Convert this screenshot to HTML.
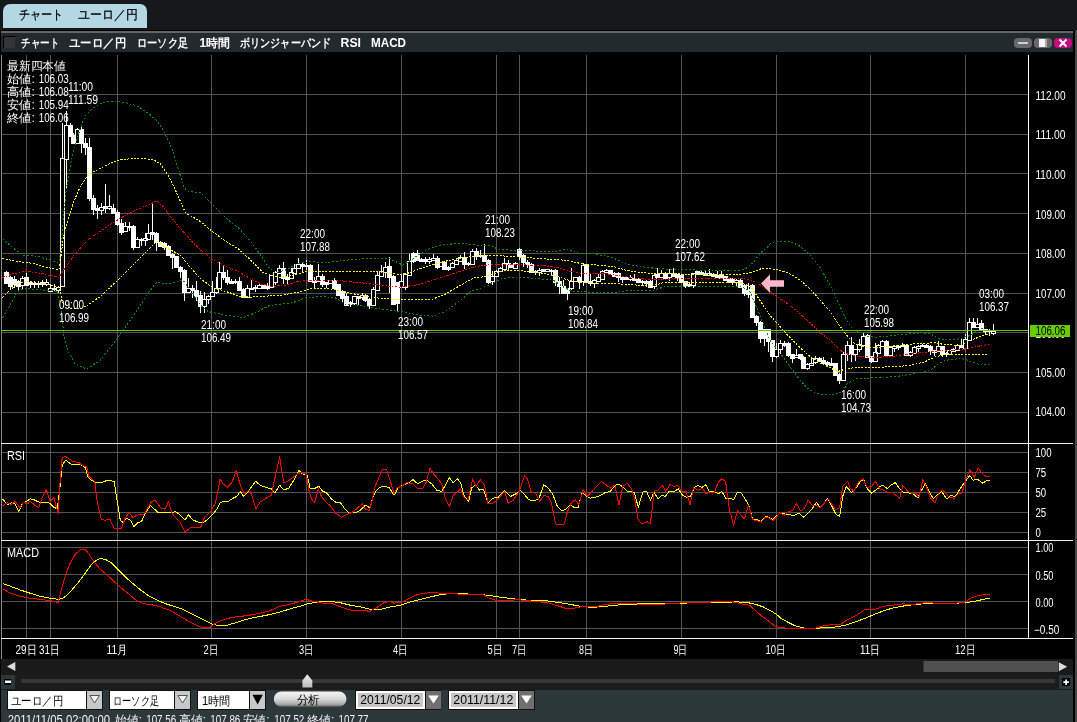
<!DOCTYPE html>
<html lang="ja"><head><meta charset="utf-8"><title>チャート ユーロ／円</title>
<style>
html,body{margin:0;padding:0}
body{width:1077px;height:722px;overflow:hidden;background:#15191b;position:relative;font-family:"Liberation Sans", sans-serif;font-size:12px;color:#fff}
.abs{position:absolute}
.tab{left:3px;top:4px;width:144px;height:24px;background:#b3d8e3;border-radius:7px 7px 0 0;color:#000;font-size:12px;line-height:24px;white-space:pre}
.hl{left:1px;top:31px;width:1072px;height:2px;background:#666}
.tbar{left:1px;top:33px;width:1072px;height:19px;background:#232a2d}
.chk{left:3px;top:36px;width:11px;height:11px;background:#343434;border-left:1px solid #000;border-top:1px solid #000}
.wb{top:38px;width:18px;height:10px;border-radius:4px;background:#68696d}
.rstrip{left:1073px;top:30px;width:2px;height:692px;background:#000;border-right:2px solid #484848;border-left:0}
.topline{left:0;top:30px;width:1075px;height:1px;background:#000}
.lstrip{left:0;top:30px;width:1px;height:692px;background:#000}
</style></head><body><div id="root" style="position:absolute;left:0;top:0;width:1077px;height:722px;overflow:hidden;will-change:transform">
<div class="abs tab"></div>
<div class="abs hl"></div>
<div class="abs tbar"></div>
<div class="abs chk"></div>
<svg class="abs" style="left:0;top:0" width="1077" height="52" font-family='"Liberation Sans", sans-serif' font-size="12">
<text x="18.5" y="18.7" fill="#000" font-size="13" stroke="#000" stroke-width=".25" textLength="44.5" lengthAdjust="spacingAndGlyphs">チャート</text>
<text x="78" y="18.7" fill="#000" font-size="13" stroke="#000" stroke-width=".25" textLength="59.5" lengthAdjust="spacingAndGlyphs">ユーロ／円</text>
<g fill="#fff" font-weight="bold">
<text x="21" y="46.6" textLength="38" lengthAdjust="spacingAndGlyphs">チャート</text>
<text x="69" y="46.6" textLength="57" lengthAdjust="spacingAndGlyphs">ユーロ／円</text>
<text x="137" y="46.6" textLength="51" lengthAdjust="spacingAndGlyphs">ローソク足</text>
<text x="199.5" y="46.6" textLength="30.5" lengthAdjust="spacingAndGlyphs">1時間</text>
<text x="240" y="46.6" textLength="91" lengthAdjust="spacingAndGlyphs">ボリンジャーバンド</text>
<text x="340.5" y="46.6" textLength="20.5" lengthAdjust="spacingAndGlyphs">RSI</text>
<text x="371" y="46.6" textLength="35" lengthAdjust="spacingAndGlyphs">MACD</text>
</g></svg>
<div class="abs wb" style="left:1014px"><svg width="18" height="10" style="display:block"><rect x="4" y="4" width="10" height="2" fill="#d0d0d0"/></svg></div>
<div class="abs wb" style="left:1034px"><svg width="18" height="10" style="display:block"><rect x="5" y="1" width="8" height="8" fill="#f4f4f4"/><rect x="11" y="1" width="2" height="8" fill="#aaa"/></svg></div>
<div class="abs wb" style="left:1054px;background:#c40a80"><svg width="18" height="10" style="display:block"><path d="M5.5 1.5l7 7M12.5 1.5l-7 7" stroke="#fff" stroke-width="2" fill="none"/></svg></div>
<svg width="1077" height="607" viewBox="0 52 1077 607" style="position:absolute;left:0;top:52px;display:block" font-family='"Liberation Sans", sans-serif'>
<rect x="0" y="52" width="1075" height="607" fill="#000"/>
<path d="M26.5 55V638M50.5 55V638M117.5 55V638M211.5 55V638M306.5 55V638M401.5 55V638M496.5 55V638M519.5 55V638M586.5 55V638M681.5 55V638M776.5 55V638M870.5 55V638M965.5 55V638M2 94.5H1028M2 134.5H1028M2 173.5H1028M2 213.5H1028M2 253.5H1028M2 293.5H1028M2 332.5H1028M2 372.5H1028M2 412.5H1028M2 452.5H1028M2 472.5H1028M2 492.5H1028M2 512.5H1028M2 532.5H1028M2 547.5H1028M2 574.5H1028M2 601.5H1028M2 628.5H1028" stroke="#545454" stroke-width="1" fill="none" shape-rendering="crispEdges"/>
<path d="M1.5 55V659" stroke="#8a8a8a" stroke-width="1" shape-rendering="crispEdges"/>
<path d="M6.5 271V284M10.5 276V290M14.5 276V288M18.5 280V290M22.5 276V290M26.5 273V286M30.5 281V288M34.5 281V288M38.5 281V288M42.5 280V287M46.5 279V286M50.5 284V291M54.5 284V291M58.5 286V293M62.5 123V287M66.5 111V189M70.5 123V136M73.5 133V143M77.5 128V143M81.5 126V153M85.5 138V155M89.5 138V201M93.5 195V215M97.5 205V219M101.5 203V215M105.5 184V213M109.5 195V210M113.5 204V214M117.5 210V226M121.5 219V235M125.5 222V232M129.5 222V231M133.5 225V250M137.5 237V247M141.5 238V246M145.5 233V246M148.5 224V240M152.5 203V240M156.5 232V251M160.5 241V247M164.5 242V250M168.5 245V256M172.5 253V269M176.5 256V268M180.5 266V278M184.5 269V301M188.5 278V293M192.5 285V298M196.5 281V301M200.5 291V313M204.5 292V313M208.5 295V304M212.5 281V297M216.5 277V294M219.5 262V289M223.5 265V280M227.5 270V285M231.5 279V284M235.5 279V284M239.5 277V290M243.5 288V297M247.5 285V297M251.5 280V290M255.5 285V292M259.5 283V289M263.5 285V289M267.5 283V290M271.5 275V287M275.5 271V285M279.5 265V273M283.5 262V284M287.5 274V284M291.5 268V279M294.5 264V273M298.5 258V269M302.5 262V273M306.5 260V270M310.5 264V282M314.5 277V289M318.5 264V282M322.5 274V287M326.5 282V288M330.5 280V284M334.5 278V289M338.5 284V296M342.5 290V303M346.5 293V305M350.5 301V307M354.5 296V305M358.5 296V305M362.5 293V300M365.5 294V302M369.5 298V309M373.5 287V305M377.5 271V291M381.5 265V277M385.5 262V278M389.5 257V293M393.5 275V305M397.5 282V311M401.5 275V288M405.5 273V290M409.5 254V275M413.5 252V263M417.5 250V260M421.5 258V262M425.5 257V264M429.5 257V264M433.5 254V261M437.5 256V269M440.5 262V267M444.5 261V269M448.5 266V271M452.5 262V268M456.5 260V264M460.5 255V262M464.5 252V269M468.5 262V266M472.5 249V265M476.5 248V260M480.5 250V258M484.5 244V262M488.5 259V284M492.5 271V285M496.5 270V277M500.5 267V272M504.5 258V269M508.5 260V270M511.5 264V268M515.5 262V269M519.5 248V260M523.5 254V267M527.5 260V268M531.5 263V273M535.5 270V275M539.5 268V276M543.5 269V272M547.5 269V272M551.5 269V276M555.5 269V286M559.5 277V294M563.5 280V293M567.5 288V300M571.5 268V290M575.5 277V281M579.5 276V289M583.5 263V286M586.5 264V283M590.5 274V286M594.5 279V288M598.5 274V281M602.5 270V279M606.5 269V272M610.5 270V275M614.5 272V277M618.5 272V282M622.5 276V283M626.5 277V280M630.5 275V281M634.5 274V281M638.5 278V283M642.5 280V285M646.5 280V286M650.5 280V288M654.5 273V289M657.5 268V278M661.5 270V277M665.5 272V280M669.5 269V281M673.5 268V277M677.5 274V281M681.5 274V283M685.5 281V288M689.5 283V287M693.5 273V288M697.5 271V275M701.5 271V275M705.5 270V275M709.5 269V276M713.5 273V277M717.5 271V278M721.5 271V278M725.5 276V280M729.5 278V282M732.5 278V285M736.5 279V286M740.5 279V287M744.5 284V296M748.5 283V298M752.5 284V318M756.5 315V326M760.5 321V343M764.5 329V346M768.5 329V352M772.5 340V362M776.5 343V358M780.5 340V354M784.5 341V347M788.5 342V357M792.5 354V363M796.5 349V358M800.5 354V360M803.5 356V369M807.5 363V370M811.5 358V366M815.5 356V364M819.5 357V362M823.5 357V365M827.5 361V367M831.5 358V366M835.5 363V376M839.5 373V384M843.5 352V381M847.5 341V361M851.5 337V362M855.5 349V361M859.5 339V352M863.5 333V345M867.5 334V358M871.5 356V363M875.5 343V361M878.5 344V354M882.5 340V347M886.5 340V355M890.5 346V355M894.5 345V352M898.5 345V350M902.5 343V347M906.5 344V356M910.5 351V357M914.5 346V353M918.5 345V352M922.5 344V347M926.5 344V348M930.5 345V355M934.5 350V356M938.5 341V352M942.5 346V357M946.5 352V357M949.5 350V355M953.5 348V352M957.5 344V351M961.5 338V348M965.5 334V348M969.5 318V341M973.5 318V327M977.5 318V327M981.5 320V330M985.5 329V334M989.5 329V336M993.5 324V335" stroke="#fff" stroke-width="1" fill="none" shape-rendering="crispEdges"/>
<path d="M20.5 278.5h4V285.5h-4zM36.5 283.5h4V284.5h-4zM44.5 282.5h4V284.5h-4zM48.5 288.5h4V291.5h-4zM56.5 287.5h4V290.5h-4zM60.5 158.5h4V286.5h-4zM64.5 125.5h4V159.5h-4zM75.5 129.5h4V143.5h-4zM99.5 207.5h4V210.5h-4zM107.5 206.5h4V208.5h-4zM123.5 226.5h4V231.5h-4zM135.5 239.5h4V247.5h-4zM143.5 238.5h4V240.5h-4zM146.5 233.5h4V239.5h-4zM186.5 288.5h4V292.5h-4zM202.5 299.5h4V306.5h-4zM206.5 296.5h4V299.5h-4zM210.5 292.5h4V296.5h-4zM214.5 288.5h4V292.5h-4zM217.5 272.5h4V288.5h-4zM245.5 288.5h4V297.5h-4zM249.5 288.5h4V289.5h-4zM257.5 285.5h4V288.5h-4zM269.5 275.5h4V287.5h-4zM273.5 272.5h4V282.5h-4zM277.5 268.5h4V273.5h-4zM289.5 272.5h4V278.5h-4zM292.5 268.5h4V273.5h-4zM296.5 264.5h4V268.5h-4zM316.5 276.5h4V281.5h-4zM328.5 280.5h4V283.5h-4zM352.5 296.5h4V303.5h-4zM360.5 295.5h4V297.5h-4zM371.5 289.5h4V305.5h-4zM375.5 275.5h4V290.5h-4zM379.5 271.5h4V276.5h-4zM383.5 267.5h4V272.5h-4zM399.5 281.5h4V287.5h-4zM403.5 274.5h4V287.5h-4zM407.5 261.5h4V275.5h-4zM427.5 259.5h4V261.5h-4zM431.5 258.5h4V260.5h-4zM438.5 262.5h4V266.5h-4zM450.5 263.5h4V267.5h-4zM454.5 260.5h4V264.5h-4zM458.5 257.5h4V261.5h-4zM470.5 251.5h4V264.5h-4zM490.5 276.5h4V281.5h-4zM494.5 271.5h4V276.5h-4zM498.5 268.5h4V271.5h-4zM502.5 263.5h4V269.5h-4zM513.5 263.5h4V268.5h-4zM537.5 270.5h4V272.5h-4zM545.5 269.5h4V271.5h-4zM569.5 281.5h4V288.5h-4zM573.5 277.5h4V281.5h-4zM581.5 265.5h4V281.5h-4zM592.5 280.5h4V283.5h-4zM596.5 277.5h4V281.5h-4zM600.5 271.5h4V279.5h-4zM604.5 270.5h4V272.5h-4zM628.5 277.5h4V279.5h-4zM652.5 275.5h4V286.5h-4zM659.5 273.5h4V277.5h-4zM667.5 273.5h4V277.5h-4zM691.5 273.5h4V285.5h-4zM707.5 273.5h4V275.5h-4zM734.5 280.5h4V282.5h-4zM774.5 349.5h4V356.5h-4zM778.5 343.5h4V349.5h-4zM794.5 355.5h4V357.5h-4zM805.5 364.5h4V368.5h-4zM809.5 363.5h4V365.5h-4zM813.5 358.5h4V362.5h-4zM841.5 354.5h4V380.5h-4zM845.5 345.5h4V354.5h-4zM853.5 349.5h4V354.5h-4zM857.5 344.5h4V349.5h-4zM861.5 336.5h4V345.5h-4zM873.5 352.5h4V361.5h-4zM876.5 345.5h4V353.5h-4zM880.5 341.5h4V346.5h-4zM888.5 347.5h4V355.5h-4zM892.5 346.5h4V348.5h-4zM900.5 345.5h4V346.5h-4zM908.5 352.5h4V355.5h-4zM912.5 347.5h4V353.5h-4zM916.5 346.5h4V348.5h-4zM936.5 346.5h4V351.5h-4zM947.5 350.5h4V354.5h-4zM951.5 349.5h4V351.5h-4zM955.5 345.5h4V350.5h-4zM963.5 339.5h4V348.5h-4zM967.5 322.5h4V340.5h-4zM975.5 324.5h4V327.5h-4zM987.5 330.5h4V331.5h-4zM991.5 331.5h4V333.5h-4z" stroke="#fff" stroke-width="1" fill="#000" shape-rendering="crispEdges"/>
<path d="M4.5 272.5h4V283.5h-4zM8.5 277.5h4V286.5h-4zM12.5 279.5h4V284.5h-4zM16.5 281.5h4V286.5h-4zM24.5 277.5h4V285.5h-4zM28.5 282.5h4V284.5h-4zM32.5 283.5h4V284.5h-4zM40.5 282.5h4V284.5h-4zM52.5 288.5h4V289.5h-4zM68.5 125.5h4V136.5h-4zM71.5 135.5h4V143.5h-4zM79.5 129.5h4V143.5h-4zM83.5 143.5h4V147.5h-4zM87.5 147.5h4V198.5h-4zM91.5 198.5h4V209.5h-4zM95.5 208.5h4V210.5h-4zM103.5 206.5h4V208.5h-4zM111.5 208.5h4V213.5h-4zM115.5 212.5h4V224.5h-4zM119.5 223.5h4V232.5h-4zM127.5 226.5h4V227.5h-4zM131.5 226.5h4V247.5h-4zM139.5 239.5h4V240.5h-4zM150.5 232.5h4V234.5h-4zM154.5 233.5h4V242.5h-4zM158.5 242.5h4V246.5h-4zM162.5 243.5h4V247.5h-4zM166.5 246.5h4V255.5h-4zM170.5 254.5h4V257.5h-4zM174.5 256.5h4V267.5h-4zM178.5 267.5h4V271.5h-4zM182.5 270.5h4V292.5h-4zM190.5 288.5h4V290.5h-4zM194.5 290.5h4V296.5h-4zM198.5 295.5h4V306.5h-4zM221.5 272.5h4V277.5h-4zM225.5 277.5h4V282.5h-4zM229.5 281.5h4V283.5h-4zM233.5 281.5h4V282.5h-4zM237.5 281.5h4V290.5h-4zM241.5 289.5h4V297.5h-4zM253.5 287.5h4V288.5h-4zM261.5 285.5h4V288.5h-4zM265.5 286.5h4V288.5h-4zM281.5 268.5h4V278.5h-4zM285.5 277.5h4V279.5h-4zM300.5 264.5h4V266.5h-4zM304.5 265.5h4V266.5h-4zM308.5 265.5h4V281.5h-4zM312.5 280.5h4V282.5h-4zM320.5 276.5h4V284.5h-4zM324.5 282.5h4V284.5h-4zM332.5 280.5h4V288.5h-4zM336.5 284.5h4V295.5h-4zM340.5 291.5h4V298.5h-4zM344.5 296.5h4V305.5h-4zM348.5 302.5h4V304.5h-4zM356.5 296.5h4V298.5h-4zM363.5 295.5h4V300.5h-4zM367.5 299.5h4V305.5h-4zM387.5 266.5h4V277.5h-4zM391.5 276.5h4V304.5h-4zM395.5 282.5h4V303.5h-4zM411.5 253.5h4V261.5h-4zM415.5 253.5h4V260.5h-4zM419.5 259.5h4V261.5h-4zM423.5 259.5h4V261.5h-4zM435.5 258.5h4V267.5h-4zM442.5 262.5h4V269.5h-4zM446.5 267.5h4V269.5h-4zM462.5 257.5h4V264.5h-4zM466.5 263.5h4V264.5h-4zM474.5 251.5h4V256.5h-4zM478.5 255.5h4V256.5h-4zM482.5 255.5h4V261.5h-4zM486.5 260.5h4V282.5h-4zM506.5 263.5h4V264.5h-4zM509.5 265.5h4V267.5h-4zM517.5 249.5h4V256.5h-4zM521.5 255.5h4V262.5h-4zM525.5 262.5h4V264.5h-4zM529.5 264.5h4V272.5h-4zM533.5 271.5h4V272.5h-4zM541.5 269.5h4V271.5h-4zM549.5 270.5h4V271.5h-4zM553.5 270.5h4V282.5h-4zM557.5 281.5h4V286.5h-4zM561.5 286.5h4V293.5h-4zM565.5 288.5h4V293.5h-4zM577.5 277.5h4V281.5h-4zM584.5 265.5h4V282.5h-4zM588.5 281.5h4V283.5h-4zM608.5 270.5h4V274.5h-4zM612.5 273.5h4V276.5h-4zM616.5 273.5h4V277.5h-4zM620.5 277.5h4V279.5h-4zM624.5 277.5h4V279.5h-4zM632.5 278.5h4V280.5h-4zM636.5 279.5h4V282.5h-4zM640.5 281.5h4V282.5h-4zM644.5 281.5h4V283.5h-4zM648.5 281.5h4V287.5h-4zM655.5 274.5h4V277.5h-4zM663.5 273.5h4V278.5h-4zM671.5 273.5h4V276.5h-4zM675.5 274.5h4V277.5h-4zM679.5 275.5h4V282.5h-4zM683.5 281.5h4V286.5h-4zM687.5 284.5h4V286.5h-4zM695.5 271.5h4V274.5h-4zM699.5 272.5h4V274.5h-4zM703.5 273.5h4V275.5h-4zM711.5 274.5h4V276.5h-4zM715.5 275.5h4V277.5h-4zM719.5 275.5h4V278.5h-4zM723.5 276.5h4V280.5h-4zM727.5 278.5h4V282.5h-4zM730.5 279.5h4V282.5h-4zM738.5 280.5h4V287.5h-4zM742.5 285.5h4V293.5h-4zM746.5 289.5h4V294.5h-4zM750.5 285.5h4V317.5h-4zM754.5 316.5h4V322.5h-4zM758.5 322.5h4V338.5h-4zM762.5 329.5h4V338.5h-4zM766.5 329.5h4V341.5h-4zM770.5 340.5h4V356.5h-4zM782.5 343.5h4V345.5h-4zM786.5 343.5h4V355.5h-4zM790.5 354.5h4V358.5h-4zM798.5 354.5h4V358.5h-4zM801.5 357.5h4V368.5h-4zM817.5 358.5h4V361.5h-4zM821.5 360.5h4V363.5h-4zM825.5 362.5h4V364.5h-4zM829.5 363.5h4V365.5h-4zM833.5 363.5h4V375.5h-4zM837.5 374.5h4V380.5h-4zM849.5 345.5h4V354.5h-4zM865.5 335.5h4V357.5h-4zM869.5 356.5h4V361.5h-4zM884.5 341.5h4V355.5h-4zM896.5 346.5h4V347.5h-4zM904.5 345.5h4V355.5h-4zM920.5 345.5h4V346.5h-4zM924.5 345.5h4V347.5h-4zM928.5 346.5h4V351.5h-4zM932.5 350.5h4V352.5h-4zM940.5 346.5h4V354.5h-4zM944.5 353.5h4V354.5h-4zM959.5 345.5h4V347.5h-4zM971.5 322.5h4V327.5h-4zM979.5 323.5h4V330.5h-4zM983.5 329.5h4V331.5h-4z" stroke="#fff" stroke-width="1" fill="#fff" shape-rendering="crispEdges"/>
<path d="M2.5 317.7L10.0 305.2L17.5 291.4L25.1 288.2L37.6 289.7L57.7 291.4L61.4 312.7L63.9 335.3L67.7 350.3L75.2 364.1L86.5 369.1L100.3 360.4L117.8 337.8L135.4 312.7L150.4 290.2L156.7 281.9L165.5 283.9L175.5 282.6L183.0 280.1L190.5 290.2L200.6 305.2L208.1 311.5L225.6 315.2L243.2 317.7L255.7 312.7L260.0 310.3L270.0 305.3L292.6 302.8L305.1 297.8L322.7 296.5L335.2 297.8L345.2 304.0L360.3 305.3L372.8 307.8L400.4 311.6L420.4 315.3L433.0 316.1L445.5 311.6L460.6 300.3L470.6 291.5L485.6 286.5L500.7 279.0L510.7 277.2L520.0 277.2L540.1 279.0L552.6 279.7L562.6 286.5L572.6 291.5L595.2 292.3L615.3 292.3L630.3 290.3L652.9 290.3L665.4 286.5L695.5 286.5L740.6 286.5L749.4 290.3L755.7 305.3L770.0 340.3L780.0 352.8L790.1 366.6L800.1 380.4L810.1 390.4L820.1 394.2L832.7 395.0L842.7 391.7L847.7 382.9L857.7 378.4L875.3 377.9L895.3 376.7L915.4 373.4L930.4 370.4L938.0 364.1L945.5 360.4L960.5 358.4L968.1 360.4L978.1 364.1L989.4 364.1" stroke="#009000" stroke-width="1" fill="none" stroke-dasharray="1.8 2" stroke-linejoin="round" shape-rendering="crispEdges"/>
<path d="M2.5 238.8L12.5 247.5L22.6 255.1L37.6 256.3L50.1 260.1L58.9 262.6L61.2 249.4L63.7 214.6L66.2 189.7L70 167.3L73.6 149.9L77.4 137.4L81.1 126.2L83.6 120L85.6 115.5L88.5 112.5L94 107.6L100.3 103.9L106.5 102L112.8 101.1L119 101.6L125.3 102.5L137.9 106.3L148.6 113.4L158.4 122.4L165.3 134.2L172.3 149.6L179.3 171.9L183.5 187.2L188.3 191.4L200.6 192.8L213.1 205.3L225.6 217.9L238.2 227.9L240.7 230.0L250.7 241.3L260.7 255.1L267.5 266.4L275.0 272.7L285.1 270.2L297.6 263.9L310.1 261.4L325.2 262.7L345.2 260.2L370.3 258.2L390.4 258.9L402.9 265.2L412.9 258.9L425.5 250.1L440.5 245.1L460.6 243.1L475.6 245.1L490.6 245.1L496.9 248.9L510.7 250.1L520.0 250.1L540.1 251.4L557.6 251.4L566.4 248.9L577.7 253.1L595.2 253.9L612.8 257.7L627.8 264.7L645.3 267.2L660.4 268.9L680.4 269.4L710.5 270.7L735.6 270.9L745.6 268.9L753.1 262.7L760.7 252.6L768.2 246.4L770.0 243.8L780.0 241.3L790.1 241.3L800.1 246.3L810.1 255.1L820.1 267.6L830.2 285.2L837.7 301.4L845.2 317.7L852.7 329.0L862.8 335.3L875.3 337.3L895.3 335.3L920.4 332.8L930.4 334.0L940.5 339.1L955.5 339.6L963.0 337.8L970.6 335.3L978.1 330.3L988.1 325.3" stroke="#009000" stroke-width="1" fill="none" stroke-dasharray="1.8 2" stroke-linejoin="round" shape-rendering="crispEdges"/>
<path d="M2.5 297.7L10.0 290.2L17.5 283.9L27.6 281.4L45.1 283.9L58.9 287.2L62.7 302.7L70.2 308.5L80.2 309.0L87.7 305.2L100.3 296.4L117.8 280.1L135.4 262.6L150.4 247.5L156.7 241.3L165.5 247.5L180.5 255.1L190.5 267.6L200.6 278.9L213.1 287.7L225.6 291.4L240.7 296.4L250.7 297.2L260.0 296.5L280.1 295.3L297.6 292.3L310.1 289.0L325.2 288.2L335.2 289.7L360.3 295.3L375.3 297.8L400.4 299.8L433.0 299.0L445.5 294.0L460.6 285.2L473.1 278.2L485.6 276.5L500.7 271.4L510.7 270.2L520.0 270.7L540.1 272.7L557.6 276.5L570.1 280.7L582.7 282.7L612.8 283.5L632.8 284.7L650.4 286.5L662.9 282.7L695.5 282.2L740.6 282.7L750.6 286.5L758.2 297.8L770.0 315.2L780.0 326.5L790.1 337.8L800.1 347.8L810.1 356.6L820.1 362.9L830.2 367.9L837.7 371.6L845.2 369.1L855.2 367.4L875.3 367.4L895.3 366.6L910.4 365.4L925.4 361.6L935.5 356.6L945.5 354.8L960.5 354.8L975.6 354.1L989.4 354.1" stroke="#ffff00" stroke-width="1" fill="none" stroke-dasharray="2 1.4" stroke-linejoin="round" shape-rendering="crispEdges"/>
<path d="M2.5 258.1L15.0 261.3L32.6 263.3L45.1 267.1L58.9 269.6L60.5 262L62.4 244.5L65 229.5L68.7 217L73.6 202L80 187.2L87.3 176L94.8 171L102.3 167.3L110 163.6L117.8 160.2L135.4 158.2L152.9 159.4L160.4 164.0L168.0 175.2L175.5 190.3L185.5 212.8L200.6 221.6L210.6 230.0L225.6 241.3L238.2 248.8L250.7 260.1L263.2 272.6L270.0 275.2L280.1 277.2L292.6 275.2L306.4 271.4L325.2 271.4L360.3 271.4L380.3 271.9L397.9 274.5L407.9 273.2L423.0 267.7L440.5 262.2L460.6 258.2L475.6 255.7L490.6 255.2L510.7 256.4L520.0 257.2L545.1 258.9L565.1 260.2L582.7 263.9L612.8 266.4L627.8 270.7L650.4 273.5L680.4 274.0L710.5 274.5L738.1 274.7L750.6 272.7L760.7 268.9L770.0 268.9L780.0 270.1L790.1 273.9L800.1 280.1L810.1 288.9L820.1 300.2L830.2 311.5L840.2 326.5L847.7 336.5L855.2 344.1L865.3 347.3L880.3 347.3L900.4 345.3L920.4 343.3L935.5 342.8L945.5 344.8L960.5 345.3L968.1 341.6L978.1 337.3L988.1 334.0" stroke="#ffff00" stroke-width="1" fill="none" stroke-dasharray="2 1.4" stroke-linejoin="round" shape-rendering="crispEdges"/>
<path d="M2.5 277.6L12.5 273.9L25.1 271.4L37.6 272.6L50.1 275.6L58.9 277.1L62.7 271.4L75.2 253.8L87.7 240.0L100.3 231.3L112.8 222.9L125.3 215.3L137.9 209.1L150.4 204.1L156.7 200.8L163.0 206.6L175.5 222.9L181.8 230.0L190.5 240.0L200.6 250.1L213.1 260.1L225.6 266.4L238.2 271.4L250.7 278.9L260.7 283.9L272.5 286.5L285.1 285.2L297.6 281.5L310.1 280.2L335.2 280.2L360.3 282.7L380.3 285.2L400.4 287.2L415.4 285.2L435.5 279.7L455.5 272.7L475.6 266.4L490.6 264.7L510.7 264.4L520.0 264.7L545.1 265.7L557.6 267.7L570.1 271.4L582.7 273.5L607.7 274.0L627.8 277.2L650.4 279.7L670.4 279.0L695.5 278.2L720.6 278.2L740.6 278.5L750.6 279.7L760.7 285.2L770.0 291.4L780.0 298.9L790.1 305.2L800.1 314.0L810.1 322.8L820.1 332.8L830.2 340.3L840.2 350.3L847.7 354.1L860.3 356.6L875.3 357.4L890.3 356.6L910.4 354.1L930.4 351.6L945.5 350.3L960.5 349.8L970.6 347.8L980.6 345.8L989.4 344.1" stroke="#ff0000" stroke-width="1" fill="none" stroke-dasharray="2.6 1.4 1.2 1.4" stroke-linejoin="round" shape-rendering="crispEdges"/>
<rect x="2" y="330" width="1027" height="1" fill="#66cc00" shape-rendering="crispEdges"/>
<path d="M761 283.5L770 274.3V280.3H784V286.8H770V293Z" fill="#ffb6c8"/>
<path d="M2.5 498.9L7.5 504.7L11.3 502.7L15.0 503.9L18.8 511.4L22.6 503.2L26.3 501.4L30.1 498.9L33.8 499.7L40.1 502.7L43.9 502.2L48.9 502.7L53.9 507.2L57.2 508.9L59.7 490.1L62.2 465.1L65.7 460.1L71.4 464.3L80.2 464.3L85.2 467.6L88.2 477.6L91.5 480.1L96.5 482.6L102.8 482.1L107.8 480.1L114.1 481.4L116.6 497.7L120.3 520.2L122.8 522.2L126.6 518.2L130.4 520.2L134.1 526.5L137.9 522.7L141.6 521.5L145.4 512.7L150.4 505.7L154.2 508.9L157.9 512.2L165.5 512.7L171.7 512.7L175.5 511.4L180.5 515.2L185.0 520.2L188.5 514.7L192.5 519.7L198.1 522.2L202.6 523.2L208.1 519.0L213.1 514.0L216.9 508.9L220.6 502.2L228.1 501.4L233.1 498.2L236.9 496.4L240.2 491.4L243.7 496.4L248.2 491.4L251.9 486.4L255.7 481.4L260.0 485.1L266.3 487.6L271.3 488.9L275.0 493.1L279.6 485.1L283.8 490.1L288.8 488.1L293.8 480.1L298.9 470.6L302.6 473.8L307.1 475.1L310.1 488.1L315.2 488.1L318.9 486.4L322.7 491.4L326.4 492.6L331.4 498.9L336.5 502.7L340.2 502.2L344.0 507.7L349.0 513.2L355.3 512.7L360.3 510.2L365.3 505.2L369.8 507.7L372.8 497.7L376.6 490.1L380.3 487.1L385.3 486.4L389.1 487.6L394.1 495.2L397.9 487.6L404.2 484.6L409.2 482.6L412.9 479.6L417.9 483.9L421.7 481.4L426.7 480.1L431.7 483.9L436.7 490.1L441.8 491.4L445.5 485.1L449.3 477.6L453.0 482.6L457.5 478.9L460.6 482.6L464.3 496.4L468.6 501.4L471.8 487.6L475.6 485.1L479.4 490.1L483.1 488.9L488.1 502.7L493.1 498.2L498.2 497.2L504.4 490.6L510.7 496.4L515.7 493.9L520.0 490.1L525.0 495.2L528.8 499.7L533.8 500.7L538.8 498.9L543.8 484.6L548.1 488.1L552.6 493.9L557.1 505.7L561.4 510.7L565.1 509.7L570.1 504.7L574.7 507.7L578.2 507.2L582.2 492.6L586.4 496.4L590.2 498.2L595.2 497.2L600.2 495.7L605.2 492.6L610.3 491.4L614.8 485.6L619.0 483.9L623.3 487.6L627.8 491.4L634.1 492.1L638.3 507.2L642.8 492.1L646.6 491.4L650.4 500.2L654.1 492.1L657.9 498.9L661.6 495.2L665.4 496.4L669.2 491.4L674.2 491.4L678.4 488.9L682.5 495.2L686.7 497.2L690.5 496.4L694.2 487.6L698.0 485.6L701.8 487.6L705.5 484.6L709.3 491.4L714.3 491.4L718.1 493.9L721.8 491.4L726.1 498.9L730.1 498.2L733.6 499.7L737.6 492.1L740.6 492.1L744.4 497.7L748.6 504.7L752.6 519.0L756.9 519.7L761.2 521.5L765.2 516.5L768.7 517.2L772.7 519.7L777.0 515.7L780.0 513.2L785.0 514.0L790.0 514.7L793.8 515.7L798.8 513.2L803.8 517.2L808.1 512.7L812.6 508.2L816.4 502.2L820.1 507.2L823.9 503.9L827.6 498.2L831.4 505.2L835.7 514.0L839.7 516.5L842.7 496.4L846.4 486.4L851.4 492.6L856.5 487.6L860.2 481.4L864.0 480.1L867.2 488.9L871.5 493.1L876.5 489.6L880.3 486.4L883.3 485.1L887.3 488.9L891.6 484.6L895.3 482.6L899.1 488.1L902.8 492.1L907.9 492.6L912.9 493.9L917.9 497.7L921.6 490.1L925.4 483.9L929.2 491.4L933.4 498.9L937.4 494.7L941.7 491.4L946.7 498.9L950.5 495.7L955.5 496.4L959.2 490.1L964.3 482.6L969.8 475.6L973.0 480.1L978.1 479.6L982.6 483.1L986.8 480.6L990.1 480.1" stroke="#ffff00" stroke-width="1" fill="none" stroke-linejoin="round" shape-rendering="crispEdges"/>
<path d="M2.5 505.7L7.5 502.7L11.3 504.7L15.0 501.4L20.1 507.7L23.8 502.2L27.6 503.9L30.1 500.9L35.1 505.7L38.9 507.2L42.6 496.4L46.4 489.6L50.1 501.4L53.9 497.7L58.2 513.5L60.2 480.1L62.2 457.5L65.7 456.3L68.9 458.8L72.7 461.3L79.0 462.6L82.7 465.8L86.5 466.3L89.0 476.4L91.5 478.9L94.8 481.4L96.5 497.7L99.0 510.2L101.5 519.7L105.3 520.2L109.8 519.0L114.1 528.5L121.6 528.5L125.3 517.7L129.1 512.7L132.9 517.7L136.6 515.2L144.2 514.0L147.9 507.7L151.7 501.4L154.9 500.2L157.9 503.9L160.9 508.2L165.5 508.2L168.5 501.4L171.7 512.7L175.5 517.7L180.5 522.7L185.0 532.0L190.5 527.7L200.6 527.7L204.3 517.7L210.6 511.4L215.6 502.7L220.1 478.9L223.1 483.9L227.6 487.1L231.9 482.6L236.2 470.6L240.7 486.4L244.4 493.9L249.4 490.1L251.9 495.2L255.7 508.9L260.0 502.2L265.0 498.9L271.3 495.2L275.0 477.6L279.6 457.0L283.8 482.6L287.6 481.4L292.6 477.6L297.6 473.8L301.4 472.6L306.4 474.6L308.9 490.1L311.4 498.9L314.7 502.7L318.2 488.9L321.4 496.4L325.2 501.4L330.2 505.7L335.2 512.7L341.5 517.2L346.5 514.7L351.5 512.7L356.5 508.9L362.3 503.9L365.3 508.9L369.1 510.7L371.6 502.7L374.8 487.6L378.3 478.9L382.3 469.6L386.6 469.6L390.4 481.4L394.1 493.9L397.4 487.6L401.6 486.4L406.7 482.6L412.9 483.9L417.9 488.9L422.5 488.9L426.0 482.6L430.0 468.1L433.5 473.8L438.0 478.9L441.8 483.9L445.5 498.9L449.3 506.4L453.5 494.7L458.1 491.4L460.6 488.9L464.3 497.7L468.1 500.2L472.6 478.9L476.1 486.4L480.1 479.6L484.4 485.1L488.1 503.9L491.9 503.9L496.9 500.2L504.4 491.4L508.2 503.2L513.2 500.2L518.2 492.6L520.0 488.9L524.5 475.6L527.5 478.9L531.3 492.6L535.5 493.1L539.6 501.4L543.8 495.7L548.1 496.4L551.3 502.7L555.6 524.0L563.9 524.7L567.6 511.4L571.4 502.7L575.2 499.7L578.9 504.7L583.2 489.6L587.2 496.4L591.4 492.1L596.5 486.4L601.5 481.4L606.5 485.1L610.3 488.1L614.8 485.1L619.0 505.2L622.8 486.4L627.3 483.1L631.6 488.9L634.8 500.2L638.3 520.2L642.3 524.0L646.6 521.5L650.4 524.0L654.1 491.4L657.9 490.1L662.4 485.6L665.9 491.4L669.9 484.6L674.2 486.4L677.9 485.6L681.7 491.4L686.0 491.4L690.0 504.7L693.5 487.6L698.5 490.1L702.5 488.1L706.0 493.9L710.0 492.1L714.3 492.6L718.1 482.6L721.8 478.9L725.6 481.4L729.3 508.9L733.6 525.2L737.6 510.2L741.9 516.5L744.4 519.0L748.6 505.2L752.6 519.7L756.9 520.7L761.2 522.2L765.2 517.2L768.7 517.7L772.7 520.7L777.0 516.5L780.0 512.7L784.5 515.2L788.8 511.4L792.5 510.7L796.3 503.2L800.6 510.7L804.6 508.2L808.1 500.2L812.1 505.2L816.4 505.7L820.1 507.7L824.6 502.7L828.1 498.9L832.1 504.7L835.7 509.7L839.7 507.7L842.7 486.4L847.7 481.4L850.2 488.1L854.0 491.4L859.0 481.4L863.2 478.9L867.2 487.6L871.5 486.4L875.3 481.4L879.8 488.9L883.3 490.1L887.3 492.1L891.6 492.1L895.8 495.2L899.8 498.2L902.8 485.6L907.9 491.4L912.4 493.9L916.6 493.9L919.1 497.2L922.9 479.6L926.7 487.6L930.4 497.7L934.9 502.7L938.4 493.9L942.5 489.6L946.0 493.9L950.0 497.7L954.2 498.2L958.0 493.9L961.8 493.9L965.5 480.6L969.8 469.6L974.3 477.1L978.1 468.1L982.6 473.8L986.8 477.1L990.1 476.4" stroke="#ff0000" stroke-width="1" fill="none" stroke-linejoin="round" shape-rendering="crispEdges"/>
<path d="M2.5 583.6L10.0 586.1L20.1 589.9L30.1 593.2L40.1 596.2L50.1 598.2L58.9 599.4L63.9 597.7L70.2 591.9L77.7 583.1L85.2 573.1L91.5 564.3L96.5 560.1L100.3 558.6L105.3 559.3L111.6 563.1L117.8 569.3L125.3 576.9L132.9 583.6L140.4 589.9L147.9 595.2L155.4 599.4L165.5 603.7L175.5 606.9L183.0 609.4L190.5 613.2L198.1 617.0L205.6 620.7L213.1 624.5L219.4 625.7L226.9 625.2L234.4 623.2L241.9 620.7L250.7 618.2L258.2 616.7L260.0 616.5L270.0 614.5L280.1 612.0L290.1 608.9L300.1 606.2L310.1 603.2L320.2 601.9L330.2 601.4L340.2 602.7L350.3 605.2L360.3 606.9L370.3 609.4L380.3 609.4L390.4 606.9L400.4 605.2L410.4 601.9L420.4 599.4L430.5 596.9L440.5 594.7L450.5 593.4L463.1 593.4L473.1 594.7L483.1 594.7L490.6 595.7L500.7 597.2L510.7 598.4L518.2 599.4L520.0 599.7L532.5 600.4L547.6 600.9L560.1 602.7L570.1 604.4L580.2 606.2L590.2 607.2L600.2 606.9L610.3 605.7L625.3 604.4L640.3 603.9L660.4 603.9L675.4 603.4L695.5 602.7L720.6 602.2L738.1 601.9L748.1 602.7L755.7 604.4L763.2 606.9L770.7 610.7L778.2 615.7L780.0 617.7L787.5 622.0L795.0 625.7L805.1 628.3L815.1 628.3L825.1 627.7L835.2 627.0L845.2 625.2L855.2 622.0L865.2 618.2L875.3 614.0L885.3 610.2L895.3 607.4L905.3 605.7L915.4 604.4L925.4 603.7L937.9 603.2L955.5 603.2L965.5 602.7L975.5 601.2L983.1 599.4L990.1 598.2" stroke="#ffff00" stroke-width="1" fill="none" stroke-linejoin="round" shape-rendering="crispEdges"/>
<path d="M2.5 588.6L10.0 593.2L20.1 596.2L30.1 598.2L40.1 599.4L50.1 600.7L58.2 602.4L61.4 589.4L65.7 574.4L70.2 563.1L75.2 554.3L80.2 550.0L85.2 549.3L89.0 554.3L94.0 561.8L100.3 569.3L107.8 575.6L115.3 582.6L122.8 589.4L130.4 595.2L136.6 600.7L144.2 603.9L150.4 604.4L160.4 606.9L170.5 610.7L179.2 615.7L185.5 619.5L193.0 623.7L200.6 627.0L210.6 627.0L215.6 623.2L221.9 620.2L230.6 617.7L238.2 616.5L246.9 615.7L255.7 614.0L260.0 613.2L270.0 610.7L280.1 606.2L290.1 604.4L300.1 601.2L306.4 599.4L312.6 601.2L322.7 603.2L332.7 603.7L342.7 607.7L351.5 610.2L362.8 610.7L370.3 611.2L377.8 606.9L384.1 602.7L389.1 601.4L394.1 603.2L402.9 601.9L410.4 597.7L417.9 594.4L425.5 593.2L433.0 592.2L443.0 593.7L455.5 593.7L464.3 594.9L473.1 594.4L483.1 594.4L488.1 597.7L495.7 600.2L505.7 600.7L518.2 599.7L520.0 599.9L532.5 601.2L547.6 602.7L557.6 605.7L565.1 608.2L573.9 608.2L582.7 606.4L597.7 606.2L605.2 604.4L615.3 603.4L630.3 603.7L645.3 604.4L660.4 604.4L675.4 603.2L695.5 602.4L715.5 601.9L733.1 601.9L740.6 603.7L749.4 605.2L755.7 610.7L761.9 616.2L768.2 620.7L774.5 625.7L778.2 627.0L780.0 627.5L792.5 628.8L805.1 629.0L815.1 628.3L823.9 625.7L832.6 624.5L840.2 624.5L847.7 619.5L856.5 615.2L865.2 609.4L875.3 609.4L882.8 606.4L892.8 605.2L902.8 603.9L912.9 604.4L925.4 602.7L937.9 603.2L955.5 603.2L965.5 601.9L970.5 598.2L978.1 595.7L984.3 594.7L990.1 594.4" stroke="#ff0000" stroke-width="1" fill="none" stroke-linejoin="round" shape-rendering="crispEdges"/>
<path d="M1 443.5H1073M1 540.5H1073M1 638.5H1073" stroke="#f0f0f0" stroke-width="1" shape-rendering="crispEdges"/>
<path d="M1028.5 55V639" stroke="#fff" stroke-width="1" shape-rendering="crispEdges"/>
<text x="1035.5" y="99.8" font-size="12" fill="#fff" textLength="30" lengthAdjust="spacingAndGlyphs">112.00</text>
<text x="1035.5" y="139" font-size="12" fill="#fff" textLength="30" lengthAdjust="spacingAndGlyphs">111.00</text>
<text x="1035.5" y="178.7" font-size="12" fill="#fff" textLength="30" lengthAdjust="spacingAndGlyphs">110.00</text>
<text x="1035.5" y="218.6" font-size="12" fill="#fff" textLength="30" lengthAdjust="spacingAndGlyphs">109.00</text>
<text x="1035.5" y="258" font-size="12" fill="#fff" textLength="30" lengthAdjust="spacingAndGlyphs">108.00</text>
<text x="1035.5" y="297.5" font-size="12" fill="#fff" textLength="30" lengthAdjust="spacingAndGlyphs">107.00</text>
<text x="1035.5" y="337.6" font-size="12" fill="#fff" textLength="30" lengthAdjust="spacingAndGlyphs">106.00</text>
<text x="1035.5" y="376.7" font-size="12" fill="#fff" textLength="30" lengthAdjust="spacingAndGlyphs">105.00</text>
<text x="1035.5" y="416.4" font-size="12" fill="#fff" textLength="30" lengthAdjust="spacingAndGlyphs">104.00</text>
<rect x="1030" y="325" width="40" height="12" fill="#66cc00" shape-rendering="crispEdges"/>
<text x="1035.5" y="335" font-size="12" fill="#000" textLength="30" lengthAdjust="spacingAndGlyphs">106.06</text>
<text x="1035.5" y="457" font-size="12" fill="#fff" textLength="16.049999999999997" lengthAdjust="spacingAndGlyphs">100</text>
<text x="1035.5" y="477" font-size="12" fill="#fff" textLength="10.7" lengthAdjust="spacingAndGlyphs">75</text>
<text x="1035.5" y="497" font-size="12" fill="#fff" textLength="10.7" lengthAdjust="spacingAndGlyphs">50</text>
<text x="1035.5" y="517" font-size="12" fill="#fff" textLength="10.7" lengthAdjust="spacingAndGlyphs">25</text>
<text x="1035.5" y="537" font-size="12" fill="#fff" textLength="5.35" lengthAdjust="spacingAndGlyphs">0</text>
<text x="1035.5" y="552" font-size="12" fill="#fff" textLength="18" lengthAdjust="spacingAndGlyphs">1.00</text>
<text x="1035.5" y="580" font-size="12" fill="#fff" textLength="18" lengthAdjust="spacingAndGlyphs">0.50</text>
<text x="1035.5" y="607" font-size="12" fill="#fff" textLength="18" lengthAdjust="spacingAndGlyphs">0.00</text>
<text x="1034" y="634" font-size="12" fill="#fff" textLength="25.3" lengthAdjust="spacingAndGlyphs">−0.50</text>
<text x="7" y="70" font-size="12" fill="#fff" textLength="59" lengthAdjust="spacingAndGlyphs">最新四本値</text>
<text x="7" y="83" font-size="12" fill="#fff" textLength="28" lengthAdjust="spacingAndGlyphs">始値:</text>
<text x="38.7" y="83" font-size="12" fill="#fff" textLength="30" lengthAdjust="spacingAndGlyphs">106.03</text>
<text x="7" y="96" font-size="12" fill="#fff" textLength="28" lengthAdjust="spacingAndGlyphs">高値:</text>
<text x="38.7" y="96" font-size="12" fill="#fff" textLength="30" lengthAdjust="spacingAndGlyphs">106.08</text>
<text x="7" y="109" font-size="12" fill="#fff" textLength="28" lengthAdjust="spacingAndGlyphs">安値:</text>
<text x="38.7" y="109" font-size="12" fill="#fff" textLength="30" lengthAdjust="spacingAndGlyphs">105.94</text>
<text x="7" y="122" font-size="12" fill="#fff" textLength="28" lengthAdjust="spacingAndGlyphs">終値:</text>
<text x="38.7" y="122" font-size="12" fill="#fff" textLength="30" lengthAdjust="spacingAndGlyphs">106.06</text>
<text x="7" y="460" font-size="12" fill="#fff" textLength="18" lengthAdjust="spacingAndGlyphs">RSI</text>
<text x="7" y="557" font-size="12" fill="#fff" textLength="32" lengthAdjust="spacingAndGlyphs">MACD</text>
<text x="68" y="91" font-size="12" fill="#fff" textLength="25" lengthAdjust="spacingAndGlyphs">11:00</text>
<text x="68" y="104.3" font-size="12" fill="#fff" textLength="30" lengthAdjust="spacingAndGlyphs">111.59</text>
<text x="59" y="308.5" font-size="12" fill="#fff" textLength="25" lengthAdjust="spacingAndGlyphs">09:00</text>
<text x="59" y="321.8" font-size="12" fill="#fff" textLength="30" lengthAdjust="spacingAndGlyphs">106.99</text>
<text x="201" y="329" font-size="12" fill="#fff" textLength="25" lengthAdjust="spacingAndGlyphs">21:00</text>
<text x="201" y="342.3" font-size="12" fill="#fff" textLength="30" lengthAdjust="spacingAndGlyphs">106.49</text>
<text x="300" y="238" font-size="12" fill="#fff" textLength="25" lengthAdjust="spacingAndGlyphs">22:00</text>
<text x="300" y="251.3" font-size="12" fill="#fff" textLength="30" lengthAdjust="spacingAndGlyphs">107.88</text>
<text x="398" y="326" font-size="12" fill="#fff" textLength="25" lengthAdjust="spacingAndGlyphs">23:00</text>
<text x="398" y="339.3" font-size="12" fill="#fff" textLength="30" lengthAdjust="spacingAndGlyphs">106.57</text>
<text x="485" y="224" font-size="12" fill="#fff" textLength="25" lengthAdjust="spacingAndGlyphs">21:00</text>
<text x="485" y="237.3" font-size="12" fill="#fff" textLength="30" lengthAdjust="spacingAndGlyphs">108.23</text>
<text x="568" y="315" font-size="12" fill="#fff" textLength="25" lengthAdjust="spacingAndGlyphs">19:00</text>
<text x="568" y="328.3" font-size="12" fill="#fff" textLength="30" lengthAdjust="spacingAndGlyphs">106.84</text>
<text x="675" y="248" font-size="12" fill="#fff" textLength="25" lengthAdjust="spacingAndGlyphs">22:00</text>
<text x="675" y="261.3" font-size="12" fill="#fff" textLength="30" lengthAdjust="spacingAndGlyphs">107.62</text>
<text x="841" y="399" font-size="12" fill="#fff" textLength="25" lengthAdjust="spacingAndGlyphs">16:00</text>
<text x="841" y="412.3" font-size="12" fill="#fff" textLength="30" lengthAdjust="spacingAndGlyphs">104.73</text>
<text x="864" y="314" font-size="12" fill="#fff" textLength="25" lengthAdjust="spacingAndGlyphs">22:00</text>
<text x="864" y="327.3" font-size="12" fill="#fff" textLength="30" lengthAdjust="spacingAndGlyphs">105.98</text>
<text x="979" y="298" font-size="12" fill="#fff" textLength="25" lengthAdjust="spacingAndGlyphs">03:00</text>
<text x="979" y="311.3" font-size="12" fill="#fff" textLength="30" lengthAdjust="spacingAndGlyphs">106.37</text>
<text x="15.5" y="653.5" font-size="12" fill="#fff" textLength="21" lengthAdjust="spacingAndGlyphs">29日</text>
<text x="39" y="653.5" font-size="12" fill="#fff" textLength="20.5" lengthAdjust="spacingAndGlyphs">31日</text>
<text x="106.5" y="653.5" font-size="12" fill="#fff" textLength="21" lengthAdjust="spacingAndGlyphs">11月</text>
<text x="203.5" y="653.5" font-size="12" fill="#fff" textLength="14.5" lengthAdjust="spacingAndGlyphs">2日</text>
<text x="299" y="653.5" font-size="12" fill="#fff" textLength="14.5" lengthAdjust="spacingAndGlyphs">3日</text>
<text x="393" y="653.5" font-size="12" fill="#fff" textLength="14.5" lengthAdjust="spacingAndGlyphs">4日</text>
<text x="487.5" y="653.5" font-size="12" fill="#fff" textLength="14.5" lengthAdjust="spacingAndGlyphs">5日</text>
<text x="512" y="653.5" font-size="12" fill="#fff" textLength="14.5" lengthAdjust="spacingAndGlyphs">7日</text>
<text x="579" y="653.5" font-size="12" fill="#fff" textLength="14" lengthAdjust="spacingAndGlyphs">8日</text>
<text x="673.5" y="653.5" font-size="12" fill="#fff" textLength="14" lengthAdjust="spacingAndGlyphs">9日</text>
<text x="765.5" y="653.5" font-size="12" fill="#fff" textLength="20" lengthAdjust="spacingAndGlyphs">10日</text>
<text x="860" y="653.5" font-size="12" fill="#fff" textLength="20" lengthAdjust="spacingAndGlyphs">11日</text>
<text x="955" y="653.5" font-size="12" fill="#fff" textLength="20" lengthAdjust="spacingAndGlyphs">12日</text>
</svg>
<div class="abs rstrip"></div><div class="abs topline"></div><div class="abs lstrip"></div>
<svg class="abs" style="left:0;top:658px" width="1077" height="64" viewBox="0 658 1077 64" font-family='"Liberation Sans", sans-serif' font-size="12">
<defs><linearGradient id="bg1" x1="0" y1="0" x2="0" y2="1"><stop offset="0" stop-color="#f6f6f6"/><stop offset=".5" stop-color="#dadada"/><stop offset=".85" stop-color="#a8a8a8"/><stop offset="1" stop-color="#6c6c6c"/></linearGradient>
<linearGradient id="bg2" x1="0" y1="0" x2="0" y2="1"><stop offset="0" stop-color="#f0f0f0"/><stop offset="1" stop-color="#b8b8b8"/></linearGradient></defs>
<rect x="1" y="659" width="1072" height="16" fill="#1a1a1a"/>
<rect x="1" y="675" width="1072" height="15" fill="#1c1c1c"/>
<rect x="1" y="690" width="1072" height="32" fill="#2d383b"/>
<path d="M7 666.5L15.3 662V671Z" fill="#dcdcdc"/>
<rect x="923.5" y="661" width="134.5" height="11" fill="#505050"/>
<path d="M1067.2 666.7L1058.8 662.2V671.3Z" fill="#dcdcdc"/>
<rect x="21" y="679" width="1034" height="4" fill="#373737"/>
<rect x="1" y="675" width="14" height="14" fill="#2a373b"/><rect x="4" y="679" width="7" height="6" fill="#000"/><rect x="5" y="680.5" width="6" height="2.5" fill="#fff"/>
<rect x="1059" y="675" width="14" height="14" fill="#2a373b"/><rect x="1062" y="678" width="8" height="8" fill="#000"/><path d="M1063.3 682.2h5.6M1066.1 679.4v5.6" stroke="#fff" stroke-width="1.7"/>
<path d="M307.3 674.3L312.3 680.5V687.6H302.4V680.5Z" fill="url(#bg2)"/>
<g shape-rendering="crispEdges">
<rect x="7" y="690" width="96" height="20" fill="#111"/><rect x="8" y="691" width="78" height="18" fill="#fff"/><rect x="87" y="691" width="15" height="18" fill="#c8c8c8"/>
<rect x="109" y="690" width="82" height="20" fill="#111"/><rect x="110" y="691" width="64" height="18" fill="#fff"/><rect x="175" y="691" width="15" height="18" fill="#c8c8c8"/>
<rect x="197" y="690" width="69" height="20" fill="#111"/><rect x="198" y="691" width="51" height="18" fill="#fff"/><rect x="250" y="691" width="15" height="18" fill="#c8c8c8"/>
<rect x="355" y="690" width="86" height="20" fill="#111"/><rect x="356" y="691" width="69" height="18" fill="#fff"/><rect x="358" y="693" width="65" height="14" fill="#c6c6c6"/><rect x="426" y="691" width="15" height="18" fill="#707070"/>
<rect x="448" y="690" width="87" height="20" fill="#111"/><rect x="449" y="691" width="69" height="18" fill="#fff"/><rect x="451" y="693" width="65" height="14" fill="#c6c6c6"/><rect x="519" y="691" width="15" height="18" fill="#707070"/>
</g>
<path d="M89.8 695.5H99.4L94.6 703Z" fill="#f4f4f4" stroke="#555" stroke-width="1"/>
<path d="M177.8 695.5H187.4L182.6 703Z" fill="#f4f4f4" stroke="#555" stroke-width="1"/>
<path d="M252.4 694.7H262.8L257.6 704.4Z" fill="#000"/>
<path d="M428.2 695.6H438.8L433.5 703.5Z" fill="#fff"/>
<path d="M521.2 695.6H531.8L526.5 703.5Z" fill="#fff"/>
<rect x="273.8" y="691.5" width="72.7" height="16" rx="8" fill="#3a4447"/>
<rect x="273.8" y="691.5" width="72.7" height="15" rx="7.5" fill="url(#bg1)"/>
<g fill="#000">
<text x="11" y="704.5" textLength="52" lengthAdjust="spacingAndGlyphs">ユーロ／円</text>
<text x="113" y="704.5" textLength="46" lengthAdjust="spacingAndGlyphs">ローソク足</text>
<text x="202" y="704.5" textLength="28.5" lengthAdjust="spacingAndGlyphs">1時間</text>
<text x="296.8" y="704" textLength="23.2" lengthAdjust="spacingAndGlyphs">分析</text>
<text x="360.3" y="704.3" textLength="60" lengthAdjust="spacingAndGlyphs">2011/05/12</text>
<text x="453.3" y="704.3" textLength="60" lengthAdjust="spacingAndGlyphs">2011/11/12</text>
</g>
<g fill="#f4f4f4">
<text x="7.7" y="724" textLength="102.5" lengthAdjust="spacingAndGlyphs">2011/11/05 02:00:00</text>
<text x="115" y="724" textLength="27" lengthAdjust="spacingAndGlyphs">始値:</text>
<text x="146.2" y="724" textLength="30" lengthAdjust="spacingAndGlyphs">107.56</text>
<text x="178.5" y="724" textLength="27.5" lengthAdjust="spacingAndGlyphs">高値:</text>
<text x="210.3" y="724" textLength="30" lengthAdjust="spacingAndGlyphs">107.86</text>
<text x="242.6" y="724" textLength="27" lengthAdjust="spacingAndGlyphs">安値:</text>
<text x="274.3" y="724" textLength="30" lengthAdjust="spacingAndGlyphs">107.52</text>
<text x="306.8" y="724" textLength="27.5" lengthAdjust="spacingAndGlyphs">終値:</text>
<text x="338.5" y="724" textLength="30" lengthAdjust="spacingAndGlyphs">107.77</text>
</g>
</svg>
</div></body></html>
